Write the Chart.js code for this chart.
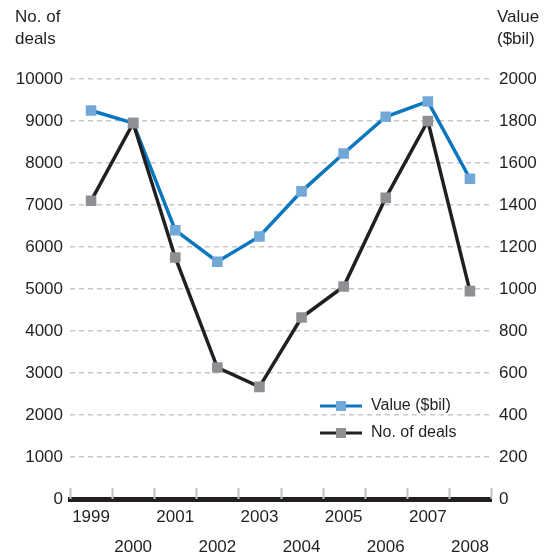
<!DOCTYPE html>
<html>
<head>
<meta charset="utf-8">
<script src="https://cdn.jsdelivr.net/npm/chart.js@4"></script>
<style>
  html, body { margin: 0; padding: 0; background: #fff; }
  #wrap { width: 549px; height: 555px; }
</style>
</head>
<body>
<div id="wrap"><canvas id="dealsChart" width="549" height="555"></canvas></div>
<script>
// Data
const years = ['1999', '2000', '2001', '2002', '2003', '2004', '2005', '2006', '2007', '2008'];
const dealValue = [1850, 1790, 1280, 1130, 1250, 1465, 1645, 1820, 1893, 1525];   // $bil, right axis
const dealCount = [7100, 8950, 5750, 3130, 2670, 4320, 5060, 7170, 9000, 4950];   // left axis
const leftTicks = { min: 0, max: 10000, step: 1000 };
const rightTicks = { min: 0, max: 2000, step: 200 };
const leftTitle = ['No. of', 'deals'];
const rightTitle = ['Value', '($bil)'];

const textColor = '#231f20';
const fontFamily = "'Liberation Sans', Arial, sans-serif";

// axis titles, little tick marks over the axis line and the in-plot legend
const extras = {
    id: 'extras',
    afterDraw(chart) {
        const ctx = chart.ctx;
        const area = chart.chartArea;
        ctx.save();
        ctx.font = '17px ' + fontFamily;
        ctx.fillStyle = textColor;
        ctx.textBaseline = 'middle';
        ctx.textAlign = 'left';
        leftTitle.forEach((t, i) => ctx.fillText(t, 15, 17 + i * 22));
        rightTitle.forEach((t, i) => ctx.fillText(t, 497, 17 + i * 22));

        // tick marks between categories, sitting on top of the axis line
        const xs = chart.scales.x;
        ctx.strokeStyle = '#bfc0c2';
        ctx.lineWidth = 2;
        for (let i = 0; i <= years.length; i++) {
            const px = Math.round(xs.getPixelForValue(i - 0.5)) + 0.5;
            ctx.beginPath();
            ctx.moveTo(px, area.bottom - 11);
            ctx.lineTo(px, area.bottom);
            ctx.stroke();
        }

        // legend
        const items = [chart.data.datasets[1], chart.data.datasets[0]];
        ctx.font = '16px ' + fontFamily;
        items.forEach((ds, i) => {
            const x0 = area.left + 250;
            const y = area.top + 327 + i * 27;
            ctx.strokeStyle = ds.borderColor;
            ctx.lineWidth = 3;
            ctx.beginPath();
            ctx.moveTo(x0, y);
            ctx.lineTo(x0 + 42, y);
            ctx.stroke();
            ctx.fillStyle = ds.pointBackgroundColor;
            ctx.fillRect(x0 + 16, y - 5, 10, 10);
            ctx.fillStyle = textColor;
            ctx.fillText(ds.label, x0 + 51, y);
        });
        ctx.restore();
    }
};

const ctx = document.getElementById('dealsChart').getContext('2d');

new Chart(ctx, {
    type: 'line',
    data: {
        labels: years,
        datasets: [
            {
                label: 'No. of deals',
                data: dealCount,
                yAxisID: 'y',
                borderColor: '#231f20',
                borderWidth: 3.5,
                pointStyle: 'rect',
                pointRadius: 7.5,
                pointBorderWidth: 0,
                pointBackgroundColor: '#8e9094',
                tension: 0,
                order: 1
            },
            {
                label: 'Value ($bil)',
                data: dealValue,
                yAxisID: 'y1',
                borderColor: '#0a76bd',
                borderWidth: 3.5,
                pointStyle: 'rect',
                pointRadius: 7.5,
                pointBorderWidth: 0,
                pointBackgroundColor: '#72a8d8',
                tension: 0,
                order: 2
            }
        ]
    },
    options: {
        responsive: false,
        animation: false,
        layout: {
            padding: { top: 79, left: 0, right: 0, bottom: 0 }
        },
        plugins: {
            legend: { display: false },
            tooltip: { enabled: false }
        },
        scales: {
            x: {
                type: 'category',
                offset: true,
                grid: { display: false, drawTicks: false },
                border: { display: true, color: '#231f20', width: 5 },
                ticks: {
                    autoSkip: false,
                    maxRotation: 0,
                    padding: 3,
                    color: textColor,
                    font: { size: 17, family: fontFamily, lineHeight: 1.76 },
                    callback: function(value, index) {
                        const lbl = years[index];
                        return index % 2 === 0 ? [lbl, ''] : ['', lbl];
                    }
                },
                afterFit(scale) { scale.height = 56; }
            },
            y: {
                position: 'left',
                min: leftTicks.min,
                max: leftTicks.max,
                ticks: {
                    stepSize: leftTicks.step,
                    padding: 7,
                    color: textColor,
                    font: { size: 17, family: fontFamily },
                    callback: (v) => String(v)
                },
                grid: {
                    color: '#c6c7c9',
                    lineWidth: 1.5,
                    drawTicks: false
                },
                border: { display: false, dash: [5, 4] },
                afterFit(scale) { scale.width = 70; }
            },
            y1: {
                position: 'right',
                min: rightTicks.min,
                max: rightTicks.max,
                ticks: {
                    stepSize: rightTicks.step,
                    padding: 8,
                    color: textColor,
                    font: { size: 17, family: fontFamily },
                    callback: (v) => String(v)
                },
                grid: { drawOnChartArea: false, drawTicks: false },
                border: { display: false },
                afterFit(scale) { scale.width = 58; }
            }
        }
    },
    plugins: [extras]
});
</script>
</body>
</html>
